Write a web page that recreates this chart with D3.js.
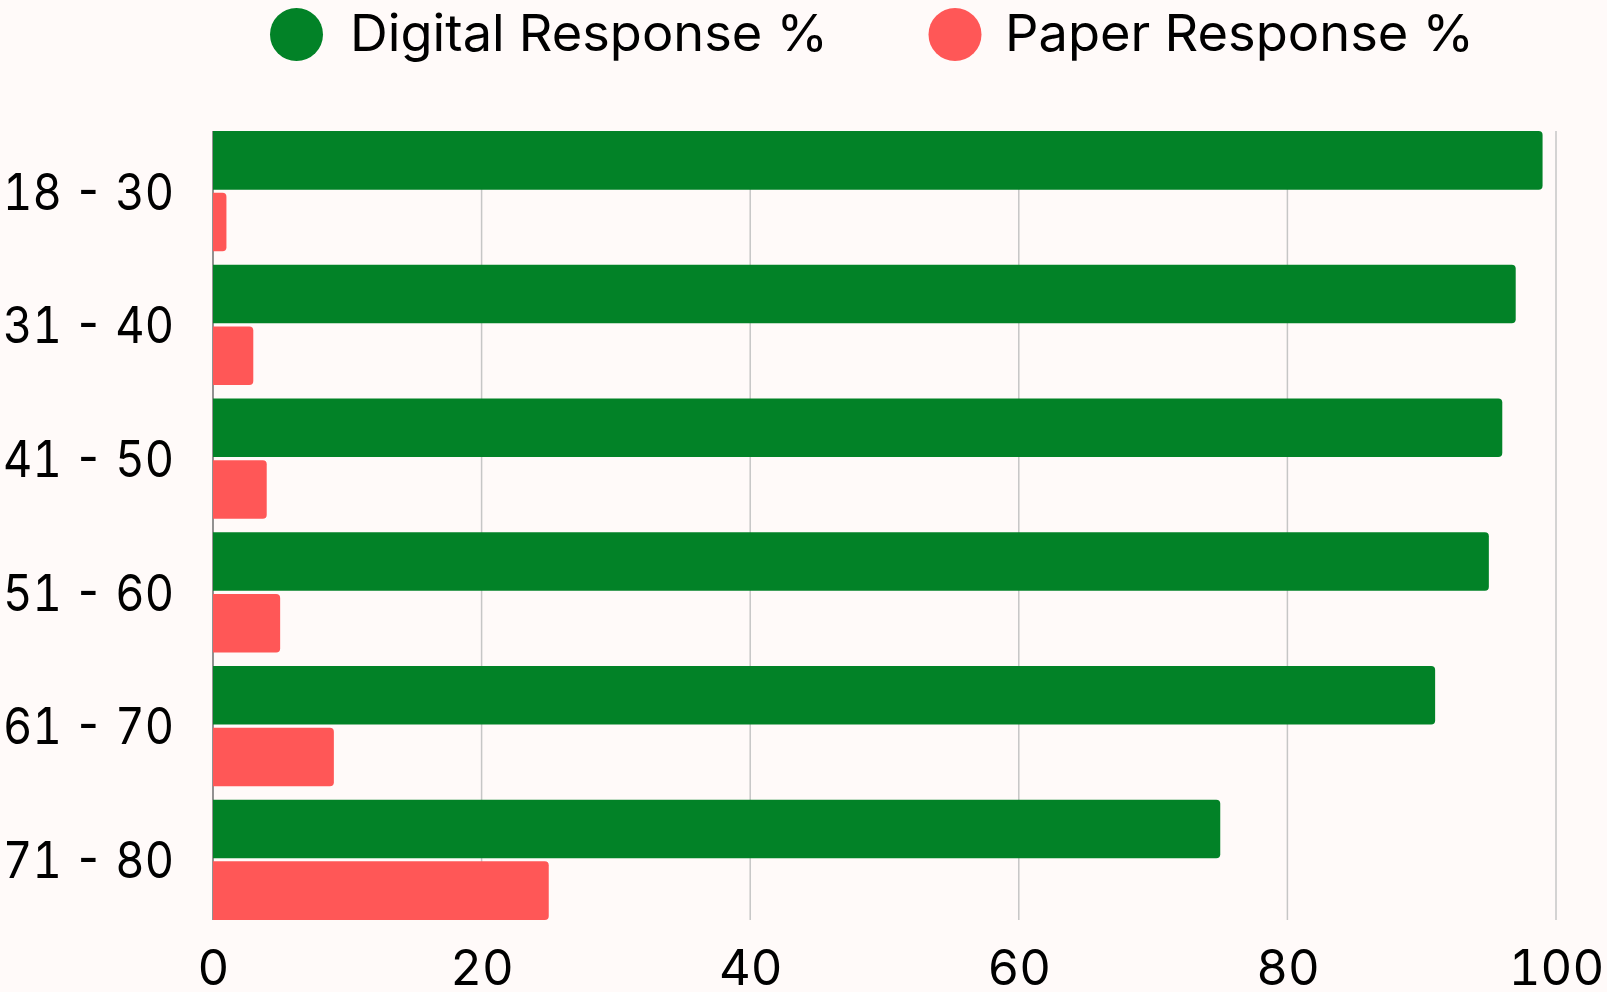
<!DOCTYPE html>
<html>
<head>
<meta charset="utf-8">
<script src="https://cdn.jsdelivr.net/npm/d3@7"></script>
<style>
  html, body { margin: 0; padding: 0; background: #fffaf9; }
  svg { display: block; }
  text { font-variant-numeric: tabular-nums; font-feature-settings: "tnum" 1; }
</style>
</head>
<body>
<svg id="chart" width="1607" height="992"></svg>
<script>
const categories = ["18 - 30", "31 - 40", "41 - 50", "51 - 60", "61 - 70", "71 - 80"];
const seriesNames = ["Digital Response %", "Paper Response %"];
const digitalValues = [99, 97, 96, 95, 91, 75];
const paperValues = [1, 3, 4, 5, 9, 25];
const xTicks = [0, 20, 40, 60, 80, 100];
const colors = ["#028227", "#ff5757"];

const W = 1607, H = 992;
const svg = d3.select("#chart");
svg.append("rect").attr("width", W).attr("height", H).attr("fill", "#fffaf9");

const plotLeft = 213, plotRight = 1556, plotTop = 131, plotBottom = 920;
const font = "Inter, 'Noto Sans', sans-serif";

const x = d3.scaleLinear().domain([0, 100]).range([plotLeft, plotRight]);
const y = d3.scaleBand().domain(categories).range([plotTop, plotBottom]).paddingInner(0.1).paddingOuter(0);
const ySub = d3.scaleBand().domain(seriesNames).range([0, y.bandwidth()]).paddingInner(0.05);

// gridlines
svg.append("g").selectAll("line").data(xTicks.filter(d => d > 0)).join("line")
  .attr("x1", d => x(d)).attr("x2", d => x(d))
  .attr("y1", plotTop).attr("y2", plotBottom)
  .attr("stroke", "#c6c6c6").attr("stroke-width", 1.5);

// axis line at 0
svg.append("line").attr("x1", x(0)).attr("x2", x(0)).attr("y1", plotTop).attr("y2", plotBottom)
  .attr("stroke", "#6e6e6e").attr("stroke-width", 1.5);

const data = categories.map((c, i) => ({cat: c, vals: [digitalValues[i], paperValues[i]]}));

function barPath(x0, y0, w, h, r) {
  r = Math.min(r, w, h / 2);
  return `M${x0},${y0} H${x0 + w - r} Q${x0 + w},${y0} ${x0 + w},${y0 + r} V${y0 + h - r} Q${x0 + w},${y0 + h} ${x0 + w - r},${y0 + h} H${x0} Z`;
}

const groups = svg.append("g").selectAll("g").data(data).join("g")
  .attr("transform", d => `translate(0,${y(d.cat)})`);
groups.selectAll("path").data(d => d.vals.map((v, i) => ({v, i}))).join("path")
  .attr("d", d => barPath(x(0), ySub(seriesNames[d.i]), x(d.v) - x(0), ySub.bandwidth(), 4))
  .attr("fill", d => colors[d.i]);

// x axis
const xAxis = d3.axisBottom(x).tickValues(xTicks).tickSize(0).tickPadding(0).tickFormat(d3.format("d"));
const gx = svg.append("g").attr("transform", `translate(0,${plotBottom})`).call(xAxis);
gx.select(".domain").remove();
gx.selectAll("text").attr("font-family", font).attr("font-size", 49).attr("fill", "#000")
  .attr("dy", null).attr("y", 65);

// y axis
const yAxis = d3.axisLeft(y).tickSize(0).tickPadding(0);
const gy = svg.append("g").attr("transform", `translate(174,0)`).call(yAxis);
gy.select(".domain").remove();
gy.selectAll("text").attr("font-family", font).attr("font-size", 51).attr("fill", "#000")
  .attr("x", 0).attr("dy", "0.36em")
  .each(function () {
    const w = this.getComputedTextLength();
    const s = 171 / w;
    d3.select(this).attr("transform", `scale(${s},1)`);
  });

// legend
const legend = svg.append("g");
const legendX = [296.5, 955];
const legendTextX = [350, 1005];
const legendTextLen = [478, 469];
seriesNames.forEach((s, i) => {
  legend.append("circle").attr("cx", legendX[i]).attr("cy", 34.5).attr("r", 26.5).attr("fill", colors[i]);
  const t = legend.append("text").attr("x", 0).attr("y", 0).attr("font-family", font)
    .attr("font-size", 51).attr("fill", "#000").text(s);
  const w = t.node().getComputedTextLength();
  t.attr("transform", `translate(${legendTextX[i]},51) scale(${legendTextLen[i] / w},1)`);
});
</script>
</body>
</html>
